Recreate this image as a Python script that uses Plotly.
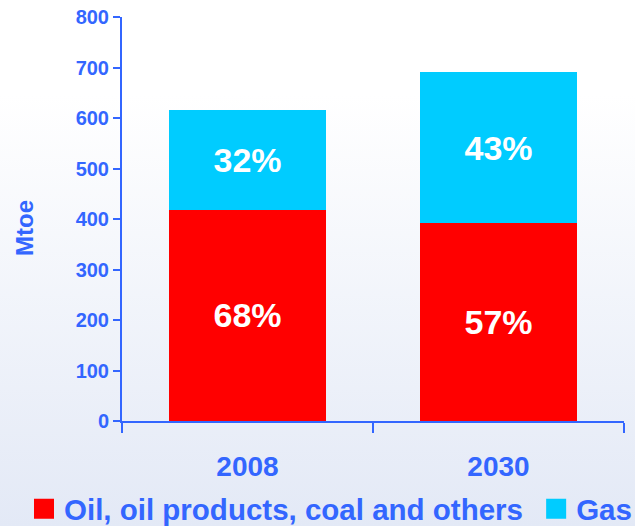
import base64
import plotly.graph_objects as go

# ---- data ----
years = ["2008", "2030"]
oil_values = [418, 392]          # Mtoe, oil, oil products, coal and others
gas_values = [198, 299]          # Mtoe, gas
oil_pct = ["68%", "57%"]
gas_pct = ["32%", "43%"]
series_names = ["Oil, oil products, coal and others", "Gas"]
y_ticks = [0, 100, 200, 300, 400, 500, 600, 700, 800]

BLUE = "#3366FF"
RED = "#FF0000"
CYAN = "#00CCFF"
FONT = "Liberation Sans, Arial, sans-serif"

W, H = 635, 526
L, R, T, B = 122, 11, 17, 105
pw, ph = W - L - R, H - T - B

fig = go.Figure()
fig.add_trace(go.Bar(
    x=years, y=oil_values, name=series_names[0], marker=dict(color=RED, line=dict(width=0)),
    text=oil_pct, textposition="inside", insidetextanchor="middle",
    textfont=dict(color="white", size=34, family=FONT, weight="bold"),
    showlegend=False,
))
fig.add_trace(go.Bar(
    x=years, y=gas_values, name=series_names[1], marker=dict(color=CYAN, line=dict(width=0)),
    text=gas_pct, textposition="inside", insidetextanchor="middle",
    textfont=dict(color="white", size=34, family=FONT, weight="bold"),
    showlegend=False,
))
# legend entries with larger square swatches (nbsp padding widens the gap between entries)
legend_labels = [series_names[0] + "\u00a0", series_names[1]]
for name, col in zip(legend_labels, [RED, CYAN]):
    fig.add_trace(go.Scatter(
        x=[None], y=[None], mode="markers", name=name,
        marker=dict(symbol="square", size=16, color=col, line=dict(width=4, color=col)),
        showlegend=True,
    ))

svg = ('<svg xmlns="http://www.w3.org/2000/svg" width="10" height="100" viewBox="0 0 10 100" '
       'preserveAspectRatio="none"><defs><linearGradient id="g" x1="0" y1="0" x2="0" y2="1">'
       '<stop offset="0" stop-color="#FFFFFF"/><stop offset="0.18" stop-color="#FFFFFF"/>'
       '<stop offset="1" stop-color="#E3E9F6"/></linearGradient></defs>'
       '<rect width="10" height="100" fill="url(#g)"/></svg>')
src = "data:image/svg+xml;base64," + base64.b64encode(svg.encode()).decode()

fig.update_layout(
    width=W, height=H,
    margin=dict(l=L, r=R, t=T, b=B, autoexpand=False),
    barmode="stack", bargap=0.375,
    paper_bgcolor="white", plot_bgcolor="rgba(0,0,0,0)",
    font=dict(family=FONT, color=BLUE),
    images=[dict(source=src, xref="paper", yref="paper", x=-L / pw, y=1 + T / ph,
                 sizex=W / pw, sizey=H / ph, xanchor="left", yanchor="top",
                 sizing="stretch", layer="below")],
    xaxis=dict(
        type="category", range=[-0.5, 1.5], tickson="boundaries",
        showline=True, linecolor=BLUE, linewidth=2,
        ticks="outside", ticklen=10, tickwidth=2, tickcolor=BLUE,
        tickfont=dict(size=28, color=BLUE, family=FONT, weight="bold"),
        ticklabelstandoff=19, showgrid=False, zeroline=False,
    ),
    yaxis=dict(
        range=[0, 800], tickvals=y_ticks,
        showline=True, linecolor=BLUE, linewidth=2,
        ticks="outside", ticklen=7, tickwidth=2, tickcolor=BLUE,
        tickfont=dict(size=20, color=BLUE, family=FONT, weight="bold"),
        showgrid=False, zeroline=False,
    ),
    annotations=[dict(
        text="Mtoe", textangle=-90, xref="paper", yref="paper",
        x=(24 - L) / pw, y=(421 - 228) / ph, xanchor="center", yanchor="middle",
        showarrow=False, font=dict(size=24, color=BLUE, family=FONT, weight="bold"),
    )],
    legend=dict(
        orientation="h", x=(24 - L) / pw, xanchor="left", y=(421 - 509) / ph, yanchor="middle",
        font=dict(size=29.5, color=BLUE, family=FONT, weight="bold"),
        bgcolor="rgba(0,0,0,0)", traceorder="normal", itemclick=False,
    ),
)

fig.write_html("out.html", post_script="document.body.style.margin='0';",
               config={"displayModeBar": False})
